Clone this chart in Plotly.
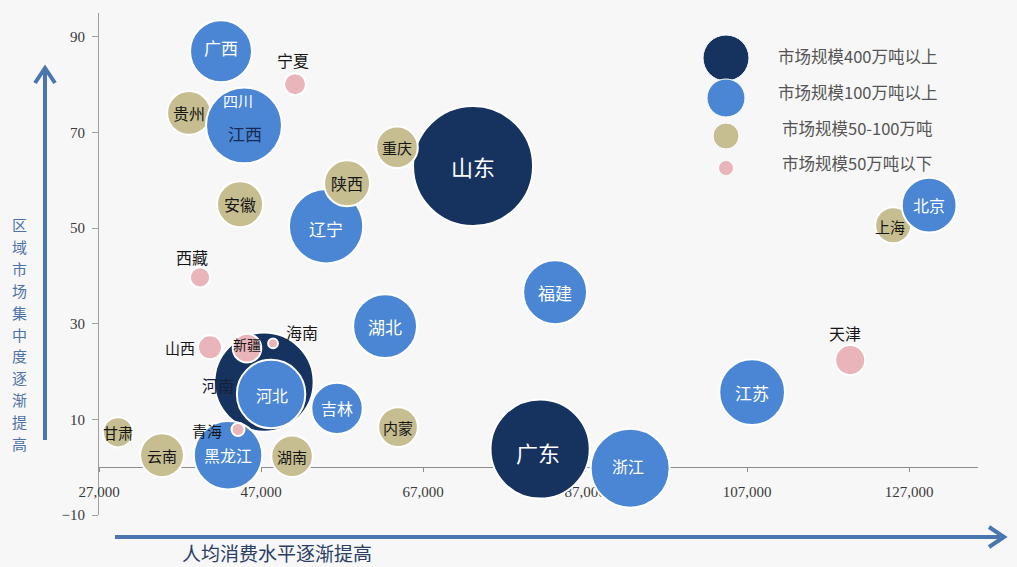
import plotly.graph_objects as go

# ---- data -------------------------------------------------------------
provinces = ["山东", "广东", "河南",
             "贵州", "上海", "云南",
             "浙江", "四川", "江西", "辽宁", "河北", "黑龙江", "江苏", "湖北",
             "福建", "广西", "北京", "吉林",
             "安徽", "陕西", "重庆", "湖南", "内蒙", "甘肃",
             "天津", "新疆", "山西", "宁夏", "西藏", "青海", "海南"]
# per-capita consumption (x) and regional concentration (y)
consumption = [73170, 81450, 47370,
               38110, 125030, 34780,
               92560, 44650, 44900, 55030, 48240, 42930, 107620, 62310,
               83300, 42060, 129470, 56380,
               44410, 57620, 63790, 50830, 63910, 29350,
               119720, 45270, 40700, 51200, 39470, 44160, 48480]
concentration = [63.0, 3.8, 17.8,
                 74.1, 50.6, 2.5,
                 -0.2, 73.0, 71.5, 50.4, 15.3, 2.5, 15.7, 29.5,
                 36.6, 87.0, 54.8, 12.3,
                 55.0, 59.4, 66.9, 2.3, 8.4, 7.3,
                 22.4, 24.9, 25.1, 80.1, 39.7, 7.9, 25.9]
# market size, 万吨
market_size = [600, 410, 410,
               80, 54, 80,
               260, 150, 240, 230, 195, 195, 180, 170,
               170, 160, 125, 110,
               88, 88, 72, 72, 66, 38,
               38, 34, 24, 20, 17, 7, 4]
# size tier: 0 = 400万吨以上, 1 = 100万吨以上, 2 = 50-100万吨, 3 = 50万吨以下
tier = [0, 0, 0,
        2, 2, 2,
        1, 1, 1, 1, 1, 1, 1, 1,
        1, 1, 1, 1,
        2, 2, 2, 2, 2, 2,
        3, 3, 3, 3, 3, 3, 3]
tier_names = ["市场规模400万吨以上", "市场规模100万吨以上",
              "市场规模50-100万吨", "市场规模50万吨以下"]

x_ticks = [27000, 47000, 67000, 87000, 107000, 127000]
y_ticks = [-10, 10, 30, 50, 70, 90]
x_range = [27000, 135500]
y_range = [-10, 95]

y_title = "区域市场集中度逐渐提高"
x_title = "人均消费水平逐渐提高"

# ---- styling ----------------------------------------------------------
tier_colors = ["#16325f", "#4a86d4", "#c6bd90", "#e9b5bb"]
W, H = 1017, 567
L, R, T, B = 99, 978, 13, 515
BG = "#f7f7f7"
ARROW = "#4a76b0"
CJK = "Noto Sans CJK SC"
SERIF = "Liberation Serif"


def fx(p):
    return (p - L) / (R - L)


def fy(p):
    return (B - p) / (B - T)


max_diam = 120
sizeref = 2 * max(market_size) / max_diam ** 2

fig = go.Figure()
fig.add_trace(go.Scatter(
    x=consumption, y=concentration, mode="markers",
    text=provinces, hoverinfo="text",
    marker=dict(size=market_size, sizemode="area", sizeref=sizeref,
                color=[tier_colors[t] for t in tier], opacity=1,
                line=dict(color="white", width=2)),
    showlegend=False,
))

# label placement: (dx, dy, color, size)
dark = "#161616"
label_style = {
    "山东": (0, 0, "white", 22), "广东": (-2, -3, "white", 22),
    "河南": (-46, -3, "#15203a", 16), "河北": (1, -1, "white", 16),
    "浙江": (-2, 2, "white", 16), "江西": (1, -8, "#1b2a55", 17),
    "四川": (-4, 18, "white", 15), "广西": (0, 4, "white", 17),
    "辽宁": (0, -2, "white", 17), "湖北": (0, 0, "white", 17),
    "福建": (0, 0, "white", 17), "吉林": (0, 0, "white", 16),
    "北京": (0, 0, "white", 16), "江苏": (0, 0, "white", 17),
    "黑龙江": (0, 0, "white", 16),
    "贵州": (0, 0, dark, 16), "上海": (-3, -1, dark, 15),
    "云南": (0, 0, dark, 15), "安徽": (0, 0, dark, 16),
    "陕西": (0, 0, dark, 16), "重庆": (0, 0, dark, 15),
    "湖南": (0, 0, dark, 15), "内蒙": (0, 0, dark, 15),
    "甘肃": (0, 0, dark, 15),
    "天津": (-5, 27, dark, 16), "新疆": (0, 4, dark, 14),
    "山西": (-30, 0, dark, 15), "宁夏": (-2, 24, dark, 16),
    "西藏": (-8, 20, dark, 16), "青海": (-31, -1, dark, 15),
    "海南": (29, 11, dark, 16),
}

annotations = []
for name, xv, yv in zip(provinces, consumption, concentration):
    dx, dy, col, fs = label_style[name]
    annotations.append(dict(
        x=xv, y=yv, xref="x", yref="y", text=name, showarrow=False,
        xanchor="center", yanchor="middle",
        xshift=dx, yshift=dy, font=dict(family=CJK, size=fs, color=col)))


def paper_text(px, py, text, size, color):
    return dict(x=fx(px), y=fy(py), xref="paper", yref="paper", text=text,
                showarrow=False, xanchor="center", yanchor="middle",
                font=dict(family=CJK, size=size, color=color))


# legend keys and texts
legend_rows = [(58, 46, 56), (98, 38, 92), (136, 26, 128), (168, 15, 163)]
shapes = []
for i, (cy, d, ty) in enumerate(legend_rows):
    shapes.append(dict(type="circle", xref="paper", yref="paper",
                       x0=fx(726 - d / 2), x1=fx(726 + d / 2),
                       y0=fy(cy + d / 2), y1=fy(cy - d / 2),
                       fillcolor=tier_colors[i], line=dict(color="white", width=1)))
    annotations.append(paper_text(857, ty, tier_names[i], 16.5, "#555555"))

# direction arrows
shapes.append(dict(type="line", xref="paper", yref="paper",
                   x0=fx(45), x1=fx(45), y0=fy(440), y1=fy(70),
                   line=dict(color=ARROW, width=4)))
shapes.append(dict(type="path", xref="paper", yref="paper",
                   path=f"M {fx(35)} {fy(83)} L {fx(45)} {fy(68)} L {fx(55)} {fy(83)}",
                   line=dict(color=ARROW, width=4)))
shapes.append(dict(type="line", xref="paper", yref="paper",
                   x0=fx(115), x1=fx(1000), y0=fy(537), y1=fy(537),
                   line=dict(color=ARROW, width=4)))
shapes.append(dict(type="path", xref="paper", yref="paper",
                   path=f"M {fx(989)} {fy(527)} L {fx(1004)} {fy(537)} L {fx(989)} {fy(547)}",
                   line=dict(color=ARROW, width=4)))

# vertical axis caption, one character per row
for k, ch in enumerate(y_title):
    annotations.append(paper_text(19, 225 + k * 21.8, ch, 15, "#4f73a8"))
annotations.append(paper_text(277, 552, x_title, 19, "#2b3f66"))

fig.update_layout(
    width=W, height=H,
    margin=dict(l=L, r=W - R, t=T, b=H - B),
    paper_bgcolor=BG, plot_bgcolor=BG,
    shapes=shapes, annotations=annotations,
    xaxis=dict(range=x_range, tickvals=x_ticks,
               ticktext=[f"{v:,}" for v in x_ticks],
               anchor="free", position=(0 - y_range[0]) / (y_range[1] - y_range[0]),
               showline=True, linecolor="#8c8c8c", linewidth=1,
               ticks="outside", ticklen=4, tickcolor="#8c8c8c",
               ticklabelstandoff=7, layer="below traces",
               showgrid=False, zeroline=False,
               tickfont=dict(family=SERIF, size=15, color="#3a3a3a")),
    yaxis=dict(range=y_range, tickvals=y_ticks,
               showline=True, linecolor="#a0a0a0", linewidth=1,
               ticks="outside", ticklen=6, tickcolor="#a0a0a0",
               ticklabelstandoff=4, layer="below traces",
               showgrid=False, zeroline=False,
               tickfont=dict(family=SERIF, size=15, color="#3a3a3a")),
)

fig.write_html("out.html")
